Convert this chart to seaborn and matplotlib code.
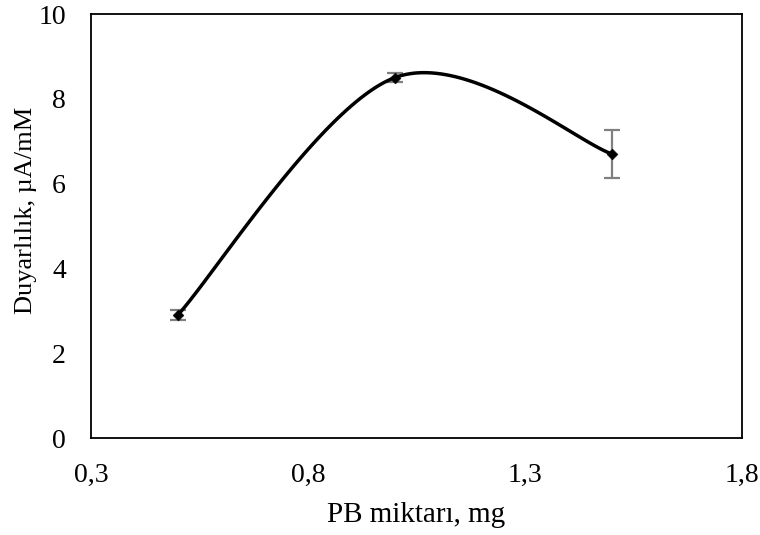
import numpy as np
import pandas as pd
import matplotlib
matplotlib.use("Agg")
import matplotlib.pyplot as plt
import seaborn as sns

# Data
pb_mg = [0.5, 1.0, 1.5]
sensitivity = [2.90, 8.50, 6.70]
err = [0.12, 0.10, 0.57]
x_ticks = [0.3, 0.8, 1.3, 1.8]
y_ticks = [0, 2, 4, 6, 8, 10]

sns.set_theme(style="white")
plt.rcParams['font.family'] = ['Liberation Serif', 'DejaVu Serif']

fig = plt.figure(figsize=(7.6, 5.35), dpi=100)
ax = fig.add_axes([0.1197, 0.1813, 0.8566, 0.7925])

# Excel-style smoothed line (Catmull-Rom Bezier) through the data points
P = np.column_stack([pb_mg, sensitivity])
n = len(P)
xs, ys = [], []
t = np.linspace(0, 1, 60)
for i in range(n - 1):
    p0 = P[i - 1] if i > 0 else P[i]
    p1, p2 = P[i], P[i + 1]
    p3 = P[i + 2] if i + 2 < n else P[i + 1]
    c1 = p1 + (p2 - p0) / 6
    c2 = p2 - (p3 - p1) / 6
    B = ((1 - t) ** 3)[:, None] * p1 + (3 * t * (1 - t) ** 2)[:, None] * c1 \
        + (3 * t ** 2 * (1 - t))[:, None] * c2 + (t ** 3)[:, None] * p2
    xs.extend(B[:, 0]); ys.extend(B[:, 1])
curve = pd.DataFrame({"x": xs, "y": ys})
sns.lineplot(data=curve, x="x", y="y", sort=False, estimator=None, color="black",
             linewidth=2.5, ax=ax, zorder=3)

ax.errorbar(pb_mg, sensitivity, yerr=err, fmt="none", ecolor="#808080",
            elinewidth=1.6, capsize=6, capthick=1.6, zorder=2)
df = pd.DataFrame({"x": pb_mg, "y": sensitivity})
sns.scatterplot(data=df, x="x", y="y", marker="D", color="black", s=30,
                edgecolor="black", ax=ax, zorder=4)

ax.set_xlim(0.3, 1.8)
ax.set_ylim(0, 10)
ax.set_xticks(x_ticks)
ax.set_yticks(y_ticks)
ax.set_xticklabels([f"{v:.1f}".replace(".", ",") for v in x_ticks])
ax.set_yticklabels([str(v) for v in y_ticks])
ax.tick_params(axis="both", length=0, labelsize=20, colors="black")
ax.tick_params(axis="x", pad=18)
ax.tick_params(axis="y", pad=18)
for s in ax.spines.values():
    s.set_color("black")
    s.set_linewidth(1.3)
ax.set_xlabel("PB miktarı, mg", fontsize=21, color="black", labelpad=10)
ax.set_ylabel("Duyarlılık, µA/mM", fontsize=19, color="black")
ax.yaxis.set_label_coords(-0.083, 0.538)
ax.grid(False)

fig.savefig("out.png", dpi=100)
